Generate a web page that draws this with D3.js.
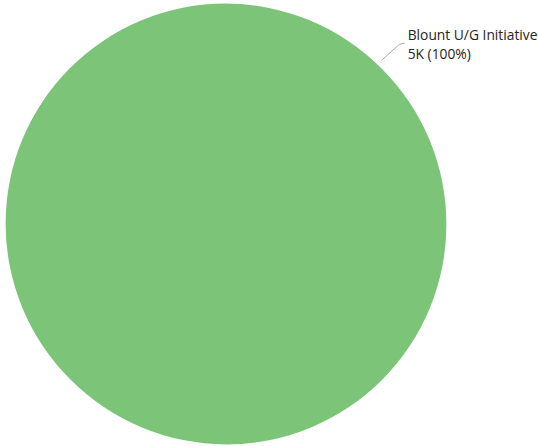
<!DOCTYPE html>
<html>
<head>
<meta charset="utf-8">
<script src="https://cdn.jsdelivr.net/npm/d3@7/dist/d3.min.js"></script>
<style>
  html, body { margin: 0; padding: 0; background: #fff; }
  svg { display: block; }
  text { font-family: "Open Sans", "Noto Sans", sans-serif; fill: #252423; }
</style>
</head>
<body>
<svg id="chart" width="538" height="446"></svg>
<script>
// Project budget share
const categories = ["Blount U/G Initiative"];
const values = [5000];
const valueLabels = ["5K"];
const colors = ["#7cc578"];

const svg = d3.select("#chart");
const cx = 226, cy = 224, radius = 220;

const pie = d3.pie().sort(null).startAngle(Math.PI / 4).endAngle(Math.PI / 4 + 2 * Math.PI);
const arcs = pie(values);
const total = d3.sum(values);
const arc = d3.arc().innerRadius(0).outerRadius(radius);

const g = svg.append("g").attr("transform", `translate(${cx},${cy})`);

g.selectAll("path.slice")
  .data(arcs)
  .join("path")
  .attr("class", "slice")
  .attr("d", arc)
  .attr("fill", (d, i) => colors[i]);

// Leader line and label for each slice, anchored at the upper-right of the pie
const anchorAngle = 0.76; // measured clockwise from 12 o'clock
arcs.forEach((d, i) => {
  const p0 = [Math.sin(anchorAngle) * (radius + 6), -Math.cos(anchorAngle) * (radius + 6)];
  const p1 = [p0[0] + 18, p0[1] - 16];
  const p2 = [p1[0] + 5, p1[1] - 1];
  g.append("polyline")
    .attr("points", [p0, p1, p2].map(p => p.join(",")).join(" "))
    .attr("fill", "none")
    .attr("stroke", "#aaa")
    .attr("stroke-width", 1);

  const pct = d3.format(".0%")(d.value / total);
  const t = g.append("text")
    .attr("x", p2[0] + 3)
    .attr("y", p2[1] - 3)
    .attr("font-size", 13.8);
  t.append("tspan").attr("x", p2[0] + 3).attr("dy", 0).text(categories[i]);
  t.append("tspan").attr("x", p2[0] + 3).attr("dy", 19).text(`${valueLabels[i]} (${pct})`);
});
</script>
</body>
</html>
